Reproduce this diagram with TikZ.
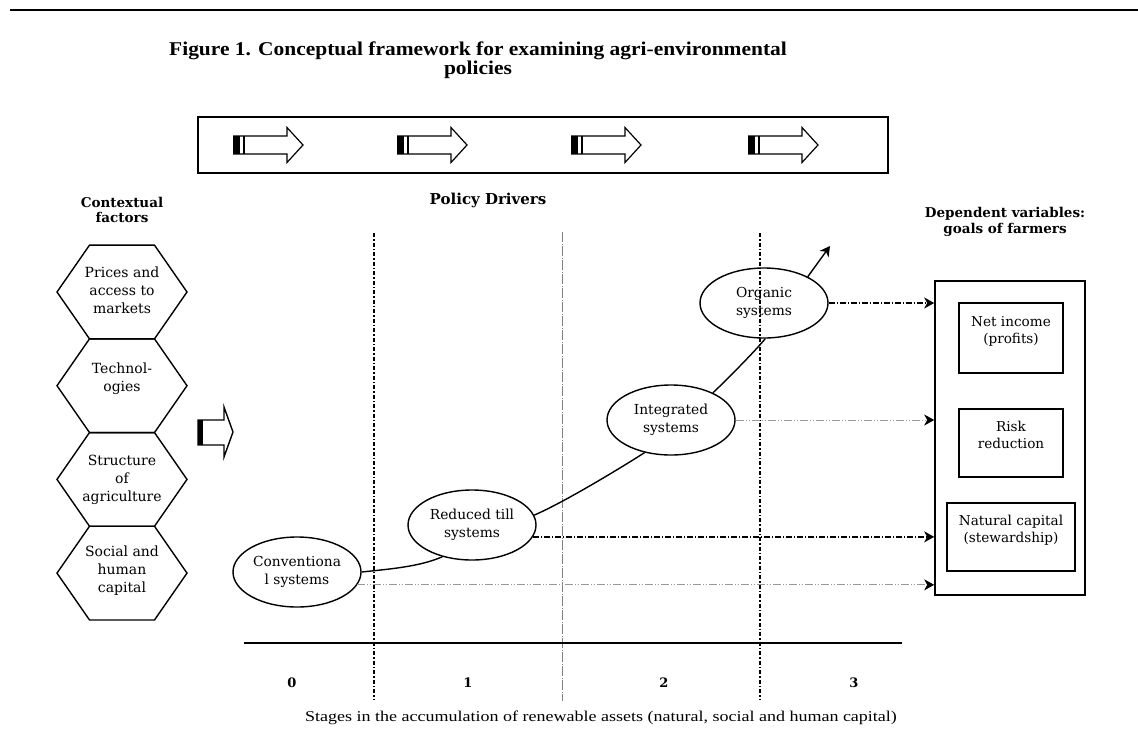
\documentclass[tikz,border=0pt]{standalone}
\usepackage{fontspec}
\setmainfont{DejaVu Serif}
\newfontfamily\titlefont[FakeStretch=1.1]{Liberation Serif}
\newfontfamily\captionfont[FakeStretch=1.2]{Liberation Serif}
\usetikzlibrary{shapes.geometric, arrows.meta, positioning}
\tikzset{
	>={Stealth[length=10pt,width=11pt,inset=3pt,color=black]},
	factor/.style={align=center, font=\fontsize{14}{18}\selectfont},
	system/.style={ellipse, draw, line width=1.4pt, minimum width=128pt,
		minimum height=70pt, inner sep=0pt, align=center,
		font=\fontsize{13.8}{18}\selectfont},
	goal/.style={draw, line width=1.4pt, align=center,
		font=\fontsize{13.6}{17}\selectfont},
	heading/.style={align=center, font=\fontsize{13.5}{15.5}\selectfont\bfseries},
	stageline/.style={line width=1.5pt, dash pattern=on 4pt off 2pt on 1.5pt off 2pt},
	midline/.style={gray, line width=0.8pt, dash pattern=on 10pt off 1.5pt on 1pt off 1.5pt},
	feed dark/.style={line width=1.2pt, dash pattern=on 6pt off 2pt on 1pt off 2pt},
	feed light/.style={gray!80, line width=0.8pt,
		dash pattern=on 8pt off 2pt on 1pt off 2pt on 1pt off 2pt},
	policy arrow/.pic={
		\fill (0,-9) rectangle (7,9);
		\draw[line width=1.2pt] (0,-9) -- (54,-9) -- (54,-17.5) -- (70,0)
			-- (54,17.5) -- (54,9) -- (0,9);
		\draw[line width=1.2pt] (11,-9) -- (11,9);
	}
}

\begin{document}
\begin{tikzpicture}[x=1pt, y=-1pt]
	\useasboundingbox (0,0) rectangle (1138,740);
	
	% header
	\draw[line width=2.5pt] (10,10) -- (1138,10);
	\node[align=center, font=\titlefont\bfseries\fontsize{19.5}{16}\selectfont] (title) at (478,60)
		{Figure 1. Conceptual framework for examining agri-environmental\\policies};
	
	% policy drivers
	\node[draw, line width=1.6pt, minimum width=690pt, minimum height=56pt] (driverbox) at (543,145) {};
	\foreach \px in {233,397,571,748}
		\pic at (\px,145) {policy arrow};
	\node[font=\fontsize{15}{17}\selectfont\bfseries] (drivers) at (488,200) {Policy Drivers};
	
	% contextual factors
	\node[heading] (context) at (122,210) {Contextual\\factors};
	\foreach \n/\cy/\txt in {prices/290/{Prices and\\access to\\markets},
		tech/385.7/{Technol-\\ogies\\\mbox{}},
		struct/479.4/{Structure\\of\\agriculture},
		social/571/{Social and\\human\\capital}} {
		\node[factor] (\n) at (122,\cy) {\txt};
	}
	\foreach \cy in {292,385.7,479.4,573.1}
		\draw[line width=1.4pt] (122,\cy) ++(-65,0) -- ++(32.5,-46.85) -- ++(65,0)
			-- ++(32.5,46.85) -- ++(-32.5,46.85) -- ++(-65,0) -- cycle;
	\draw[line width=1.4pt] (198,420) -- (224,420) -- (224,407) -- (233,432)
		-- (224,457) -- (224,445) -- (198,445) -- cycle;
	\fill (198,420) rectangle (203,445);
	
	% stages
	\foreach \px in {374,760}
		\draw[stageline] (\px,233) -- (\px,700);
	\draw[midline] (562,232) -- (562,701);
	\coordinate (axis start) at (244,643);
	\coordinate (axis end) at (902,643);
	\draw[line width=2.5pt] (axis start) -- (axis end);
	\foreach \n/\px in {0/292,1/468,2/664,3/854}
		\node[font=\fontsize{13}{15}\selectfont\bfseries] (stage\n) at (\px,683) {\n};
	\node[font=\captionfont\fontsize{15}{17}\selectfont] (stages) at (601,718)
		{Stages in the accumulation of renewable assets (natural, social and human capital)};
	
	% farming systems
	\node[system] (conv) at (297,572) {Conventiona\\l systems};
	\node[system] (reduced) at (472,525) {Reduced till\\systems};
	\node[system] (integ) at (671,420) {Integrated\\systems};
	\node[system] (organic) at (764,303) {Organic\\systems};
	\draw[line width=1.4pt] (conv.east) .. controls +(28,-3) and +(-23,10) .. (reduced.-133);
	\draw[line width=1.4pt] (reduced.9) .. controls +(30,-13) and +(-25,16) .. (integ.-129);
	\draw[line width=1.4pt] (integ.33) .. controls +(15,-14) and +(-8,10) .. (organic.-88);
	\coordinate (beyond) at (830,246);
	\draw[->, line width=1.4pt] (organic.31) -- (beyond);
	
	% goals of farmers
	\node[heading] (depvar) at (1005,222) {Dependent variables:\\goals of farmers};
	\node[draw, line width=1.6pt, minimum width=150pt, minimum height=314pt] (goals) at (1010,438) {};
	\node[goal, minimum width=104pt, minimum height=70pt] (income) at (1011,338) {Net income\\(profits)\\\mbox{}};
	\node[goal, minimum width=104pt, minimum height=68pt] (risk) at (1011,443) {Risk\\reduction\\\mbox{}};
	\node[goal, minimum width=128pt, minimum height=68pt] (natcap) at (1011,537) {Natural capital\\(stewardship)\\\mbox{}};
	
	\draw[->, feed dark] (organic.east) -- (organic.east -| goals.west);
	\draw[->, feed light] (integ.east) -- (integ.east -| goals.west);
	\draw[->, feed dark, line width=1.6pt] (reduced.-11) -- (reduced.-11 -| goals.west);
	\draw[->, feed light] (conv.-12) -- (conv.-12 -| goals.west);
\end{tikzpicture}
\end{document}
